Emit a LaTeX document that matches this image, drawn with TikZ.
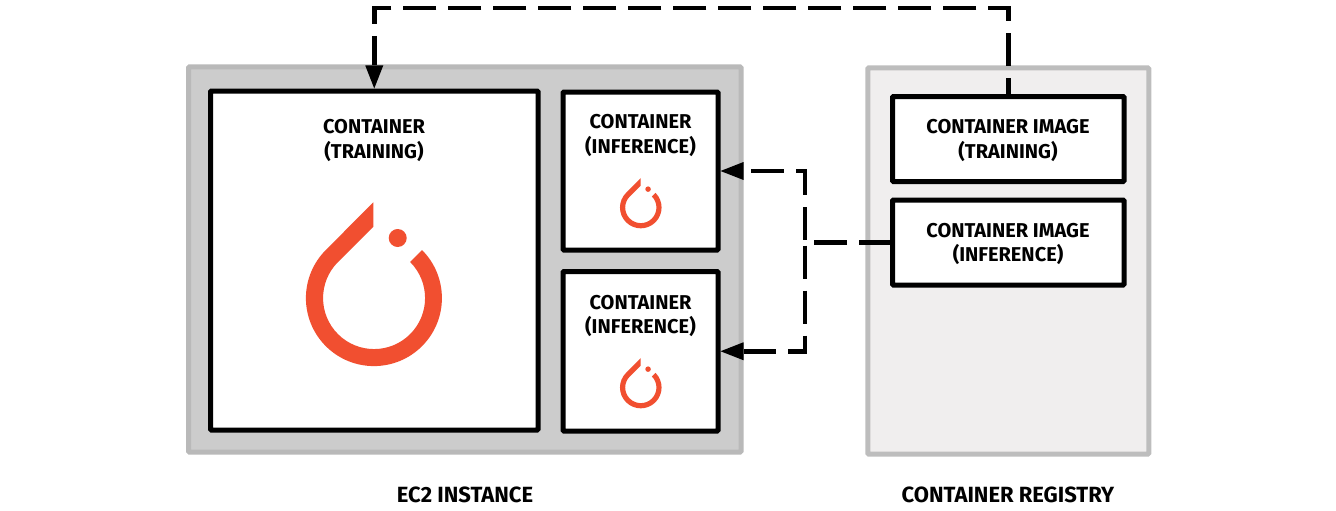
\documentclass[tikz,border=0pt]{standalone}
\usepackage{fontspec}
\setmainfont{Fira Sans}[BoldFont={Fira Sans Bold}]
\usetikzlibrary{arrows.meta}
\definecolor{ecfill}{HTML}{CCCCCC}
\definecolor{ecedge}{HTML}{B9B9B9}
\definecolor{regfill}{HTML}{F0EEEE}
\definecolor{regedge}{HTML}{BDBDBD}
\definecolor{torch}{HTML}{F14F30}
\tikzset{
  zone/.style={draw=#1,line width=5pt,rounded corners=1pt,inner sep=0pt},
  whitebox/.style={draw=black,fill=white,line width=5pt,rounded corners=1pt,inner sep=0pt},
  lbl/.style={font=\fontsize{20}{24.3}\selectfont\bfseries,align=center,inner sep=0pt,text=black},
  biglbl/.style={font=\fontsize{22}{26}\selectfont\bfseries,align=center,inner sep=0pt,text=black},
  flow/.style={draw=black,line width=4.8pt,dash pattern=on 33pt off 12pt},
  tip/.style={-{Triangle[length=23pt,width=18pt,line width=0pt]}},
  torchlogo/.pic={
    \fill[torch,y=1pt] (48,48) arc[start angle=45,end angle=-225,radius=68]
      -- (-0.7,95.7) -- (-0.7,71.3) -- (-36,36)
      arc[start angle=135,end angle=405,radius=51] -- cycle;
    \fill[torch,y=1pt] (23.7,60) circle[radius=9];
  }
}
\begin{document}
\begin{tikzpicture}[x=1pt,y=-1pt]
\useasboundingbox (0,0) rectangle (1336,511);
\node[zone=ecedge,fill=ecfill,minimum width=552.5pt,minimum height=385pt] (ec2) at (464.75,259.5) {};
\node[zone=regedge,fill=regfill,minimum width=281pt,minimum height=386pt] (reg) at (1008.25,261) {};
\node[whitebox,minimum width=327.5pt,minimum height=339pt] (train) at (374.25,260.5) {};
\node[whitebox,minimum width=155pt,minimum height=158pt] (infa) at (640.5,171) {};
\node[whitebox,minimum width=155pt,minimum height=159.5pt] (infb) at (640.5,351.25) {};
\node[whitebox,minimum width=231.5pt,minimum height=85pt] (imga) at (1008.25,139) {};
\node[whitebox,minimum width=231.5pt,minimum height=85pt] (imgb) at (1008.25,242.5) {};
\node[lbl] (ltrain) at (374,140.5) {CONTAINER\\(TRAINING)};
\node[lbl] (linfa) at (640.5,135.5) {CONTAINER\\(INFERENCE)};
\node[lbl] (linfb) at (640.5,316) {CONTAINER\\(INFERENCE)};
\node[lbl] (limga) at (1008,140.5) {CONTAINER IMAGE\\(TRAINING)};
\node[lbl] (limgb) at (1008,244) {CONTAINER IMAGE\\(INFERENCE)};
\node[biglbl] (lec2) at (465,495) {EC2 INSTANCE};
\node[biglbl] (lreg) at (1008,495) {CONTAINER REGISTRY};
\pic at (374,298) {torchlogo};
\pic[scale=0.306] at (640.8,207.5) {torchlogo};
\pic[scale=0.306] at (640.8,387.5) {torchlogo};
\coordinate (topturn) at (374.25,8);
\coordinate (split) at (805,242.5);
\draw[flow,tip,dash phase=17pt,line join=miter] (imga.north) |- (topturn) -- (train.north);
\draw[flow,dash phase=2pt] (imgb.west) -- (split);
\draw[flow,tip,dash phase=42pt] (split) |- (infa.east);
\draw[flow,tip,dash phase=42pt] (split) |- (infb.east);
\end{tikzpicture}
\end{document}
